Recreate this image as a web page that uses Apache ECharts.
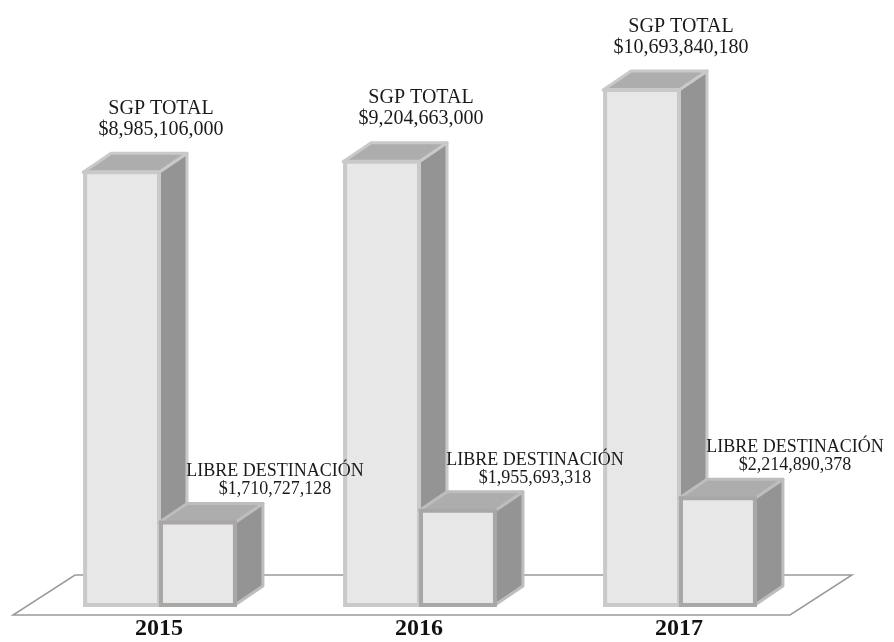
<!DOCTYPE html>
<html>
<head>
<meta charset="utf-8">
<script src="https://cdn.jsdelivr.net/npm/echarts@6/dist/echarts.min.js"></script>
<style>
  html, body { margin: 0; padding: 0; background: #ffffff; }
  #chart { width: 894px; height: 642px; }
</style>
</head>
<body>
<div id="chart"></div>
<script>
// ---- data ----
const years = ['2015', '2016', '2017'];
const sgpTotal = [8985106000, 9204663000, 10693840180];
const libreDestinacion = [1710727128, 1955693318, 2214890378];
const sgpLabel = 'SGP TOTAL';
const libreLabel = 'LIBRE DESTINACIÓN';

const FONT = 'Liberation Serif';
const fmt = v => '$' + v.toLocaleString('en-US');

const chart = echarts.init(document.getElementById('chart'), null, { renderer: 'canvas' });

function makeBarRenderer(kind) {
  return function (params, api) {
    const idx = api.value(0);
    const val = api.value(1);
    const base = api.coord([idx, 0]);
    const top = api.coord([idx, val]);
    const band = api.size([1, 0])[0];
    const w = band * 0.292;
    const dx = 28, dy = -19;
    const cx = base[0];
    const x0 = kind === 'sgp' ? cx - w : cx;
    const x1 = x0 + w;
    const yb = base[1];
    const yt = top[1];
    const isSgp = kind === 'sgp';
    const edge = isSgp ? '#c9c9c9' : '#a9a6a6';
    const edgeTop = isSgp ? '#c9c9c9' : '#bdbdbd';
    const children = [
      { // side face
        type: 'polygon',
        shape: { points: [[x1, yt], [x1 + dx, yt + dy], [x1 + dx, yb + dy], [x1, yb]] },
        style: { fill: '#949494', stroke: edgeTop, lineWidth: 3, lineJoin: 'round' }
      },
      { // top face
        type: 'polygon',
        shape: { points: [[x0, yt], [x0 + dx, yt + dy], [x1 + dx, yt + dy], [x1, yt]] },
        style: { fill: '#adadad', stroke: edgeTop, lineWidth: 3, lineJoin: 'round' }
      },
      { // front face
        type: 'rect',
        shape: { x: x0 + 2, y: yt, width: w - 2, height: yb - yt },
        style: { fill: '#e7e7e7', stroke: edge, lineWidth: 4 }
      }
    ];
    if (isSgp) {
      children.push({
        type: 'text',
        style: {
          text: sgpLabel + '\n' + fmt(val),
          x: cx + 2, y: yt - 32,
          align: 'center', verticalAlign: 'bottom',
          fontFamily: FONT, fontSize: 20, lineHeight: 21, fill: '#1a1a1a'
        }
      });
    } else {
      children.push({
        type: 'text',
        style: {
          text: libreLabel + '\n' + fmt(val),
          x: x1 + 40, y: yt - 24,
          align: 'center', verticalAlign: 'bottom',
          fontFamily: FONT, fontSize: 18, lineHeight: 18, fill: '#1a1a1a'
        }
      });
    }
    return { type: 'group', children };
  };
}

function renderFloor(params, api) {
  if (params.dataIndex !== 0) return null;
  const cs = params.coordSys;
  const left = cs.x, right = cs.x + cs.width, bottom = cs.y + cs.height;
  const yTop = bottom - 30, yBot = bottom + 10;
  return {
    type: 'polygon',
    shape: { points: [[left + 46, yTop], [right + 43, yTop], [right - 19, yBot], [left - 16, yBot]] },
    style: { fill: '#ffffff', stroke: '#9a9a9a', lineWidth: 1.5 }
  };
}

const option = {
  backgroundColor: '#ffffff',
  animation: false,
  grid: { left: 29, top: 27, width: 780, height: 578, containLabel: false },
  xAxis: {
    type: 'category',
    data: years,
    axisLine: { show: false },
    axisTick: { show: false },
    axisLabel: {
      show: true, margin: 12,
      fontFamily: FONT, fontWeight: 'bold', fontSize: 24, color: '#111'
    },
    splitLine: { show: false }
  },
  yAxis: {
    type: 'value', min: 0, max: 12000000000,
    show: false, splitLine: { show: false }
  },
  series: [
    {
      type: 'custom', name: 'floor', z: 1,
      renderItem: renderFloor,
      data: years.map((y, i) => [i, 0])
    },
    {
      type: 'custom', name: sgpLabel, z: 2,
      renderItem: makeBarRenderer('sgp'),
      encode: { x: 0, y: 1 },
      data: sgpTotal.map((v, i) => [i, v])
    },
    {
      type: 'custom', name: libreLabel, z: 3,
      renderItem: makeBarRenderer('libre'),
      encode: { x: 0, y: 1 },
      data: libreDestinacion.map((v, i) => [i, v])
    }
  ]
};
chart.setOption(option);
</script>
</body>
</html>
